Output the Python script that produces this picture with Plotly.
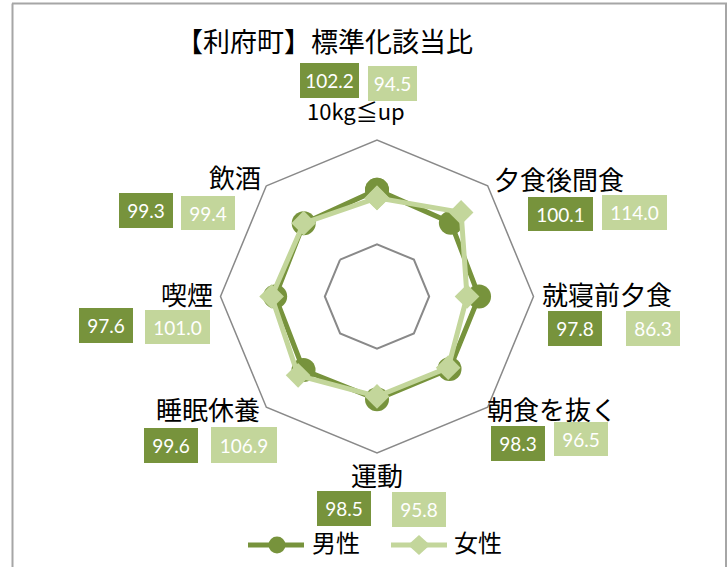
import plotly.graph_objects as go

W, H = 727, 567

# ---- data ----
categories = ["10kg≦up", "夕食後間食", "就寝前夕食", "朝食を抜く", "運動", "睡眠休養", "喫煙", "飲酒"]
male = [102.2, 100.1, 97.8, 98.3, 98.5, 99.6, 97.6, 99.3]
female = [94.5, 114.0, 86.3, 96.5, 95.8, 106.9, 101.0, 99.4]
series_names = ["男性", "女性"]
title_text = "【利府町】標準化該当比"
radial_range = [0, 150]
radial_grid = [50]

# ---- styles / layout positions (pixels) ----
MALE_C = "#77933C"
FEMALE_C = "#C3D69B"
GRID_C = "#898989"
FRAME_C = "#A6A6A6"
JP_FONT = "Noto Sans CJK JP"
NUM_FONT = "Lato"

cx, cy, R = 377, 296.5, 156.5
JP_DY = -4  # compensate CJK line-box offset

label_pos = [(355.5, 114), (559, 182), (606.5, 297), (551.5, 412),
             (377, 478), (208, 412), (187, 297), (234.5, 180)]
label_size = [22, 26, 26, 26, 26, 26, 26, 26]
male_box = [(329.5, 80.5, 59, 35), (560.5, 214, 65, 34), (575, 328.5, 54, 35), (518, 443.5, 54, 35),
            (344, 508.5, 54, 35), (171, 445.5, 54, 35), (106, 325.5, 54, 35), (146, 210.5, 54, 35)]
female_box = [(392.5, 83.5, 49, 35), (634.5, 212.5, 65, 35), (653, 328.5, 54, 35), (581, 439, 54, 34),
              (419, 509.5, 54, 35), (244, 445, 66, 36), (177.5, 327, 65, 34), (208, 213, 54, 34)]


def px(x):
    return x / W


def py(y):
    return 1 - y / H


fig = go.Figure()
fig.add_trace(go.Scatterpolar(
    r=male + [male[0]], theta=categories + [categories[0]],
    mode="lines+markers", name=series_names[0], showlegend=False,
    line=dict(color=MALE_C, width=5),
    marker=dict(symbol="circle", size=24, color=MALE_C),
))
fig.add_trace(go.Scatterpolar(
    r=female + [female[0]], theta=categories + [categories[0]],
    mode="lines+markers", name=series_names[1], showlegend=False,
    line=dict(color=FEMALE_C, width=5),
    marker=dict(symbol="diamond", size=19, color=FEMALE_C),
))

annotations = []
# title
annotations.append(dict(x=px(324), y=py(44 + JP_DY), xref="paper", yref="paper", text=title_text,
                        showarrow=False, xanchor="center", yanchor="middle",
                        font=dict(family=JP_FONT, size=27, color="#000000")))
for i, cat in enumerate(categories):
    lx, ly = label_pos[i]
    annotations.append(dict(x=px(lx), y=py(ly + JP_DY), xref="paper", yref="paper", text=cat,
                            showarrow=False, xanchor="center", yanchor="middle",
                            font=dict(family=JP_FONT, size=label_size[i], color="#000000")))
    for vals, boxes, col in ((male, male_box, MALE_C), (female, female_box, FEMALE_C)):
        bx, by, bw, bh = boxes[i]
        annotations.append(dict(x=px(bx), y=py(by), xref="paper", yref="paper",
                                text=f"{vals[i]:.1f}", showarrow=False,
                                xanchor="center", yanchor="middle", align="center", valign="middle",
                                width=bw - 8, height=bh - 8, borderpad=4, borderwidth=0,
                                bgcolor=col,
                                font=dict(family=NUM_FONT, size=19, color="#FFFFFF")))

# legend (custom)
leg_y = 545
annotations.append(dict(x=px(310), y=py(leg_y + JP_DY), xref="paper", yref="paper", text=series_names[0],
                        showarrow=False, xanchor="left", yanchor="middle",
                        font=dict(family=JP_FONT, size=24, color="#000000")))
annotations.append(dict(x=px(452), y=py(leg_y + JP_DY), xref="paper", yref="paper", text=series_names[1],
                        showarrow=False, xanchor="left", yanchor="middle",
                        font=dict(family=JP_FONT, size=24, color="#000000")))

shapes = []
# frame
shapes.append(dict(type="line", xref="paper", yref="paper", x0=px(12.5), x1=px(12.5), y0=py(3.5), y1=py(567),
                   line=dict(color=FRAME_C, width=2)))
shapes.append(dict(type="line", xref="paper", yref="paper", x0=px(12), x1=px(727), y0=py(3.5), y1=py(3.5),
                   line=dict(color=FRAME_C, width=2)))
shapes.append(dict(type="line", xref="paper", yref="paper", x0=px(726), x1=px(726), y0=py(3.5), y1=py(567),
                   line=dict(color=FRAME_C, width=2)))
# legend symbols
shapes.append(dict(type="line", xref="paper", yref="paper", x0=px(248), x1=px(304), y0=py(leg_y), y1=py(leg_y),
                   line=dict(color=MALE_C, width=5)))
shapes.append(dict(type="circle", xref="paper", yref="paper", x0=px(277 - 8.5), x1=px(277 + 8.5),
                   y0=py(leg_y + 8.5), y1=py(leg_y - 8.5), fillcolor=MALE_C, line=dict(width=0)))
shapes.append(dict(type="line", xref="paper", yref="paper", x0=px(391), x1=px(447), y0=py(leg_y), y1=py(leg_y),
                   line=dict(color=FEMALE_C, width=5)))
dx, dy = 11, 10
shapes.append(dict(type="path", xref="paper", yref="paper",
                   path=f"M {px(419 - dx)} {py(leg_y)} L {px(419)} {py(leg_y - dy)} L {px(419 + dx)} {py(leg_y)} L {px(419)} {py(leg_y + dy)} Z",
                   fillcolor=FEMALE_C, line=dict(width=0)))

fig.update_layout(
    width=W, height=H,
    margin=dict(l=0, r=0, t=0, b=0),
    paper_bgcolor="#FFFFFF",
    plot_bgcolor="#FFFFFF",
    showlegend=False,
    polar=dict(
        domain=dict(x=[px(cx - R), px(cx + R)], y=[py(cy + R), py(cy - R)]),
        bgcolor="#FFFFFF",
        gridshape="linear",
        radialaxis=dict(range=radial_range, tickvals=radial_grid, showticklabels=False, ticks="",
                        showline=False, showgrid=True, gridcolor=GRID_C, gridwidth=1.5),
        angularaxis=dict(rotation=90, direction="clockwise", type="category",
                         showgrid=False, showline=True, linecolor=GRID_C, linewidth=1.5,
                         showticklabels=False, ticks=""),
    ),
    annotations=annotations,
    shapes=shapes,
)

fig.write_html("out.html", config={"displayModeBar": False},
               post_script="document.body.style.margin='0px';document.body.style.overflow='hidden';")
